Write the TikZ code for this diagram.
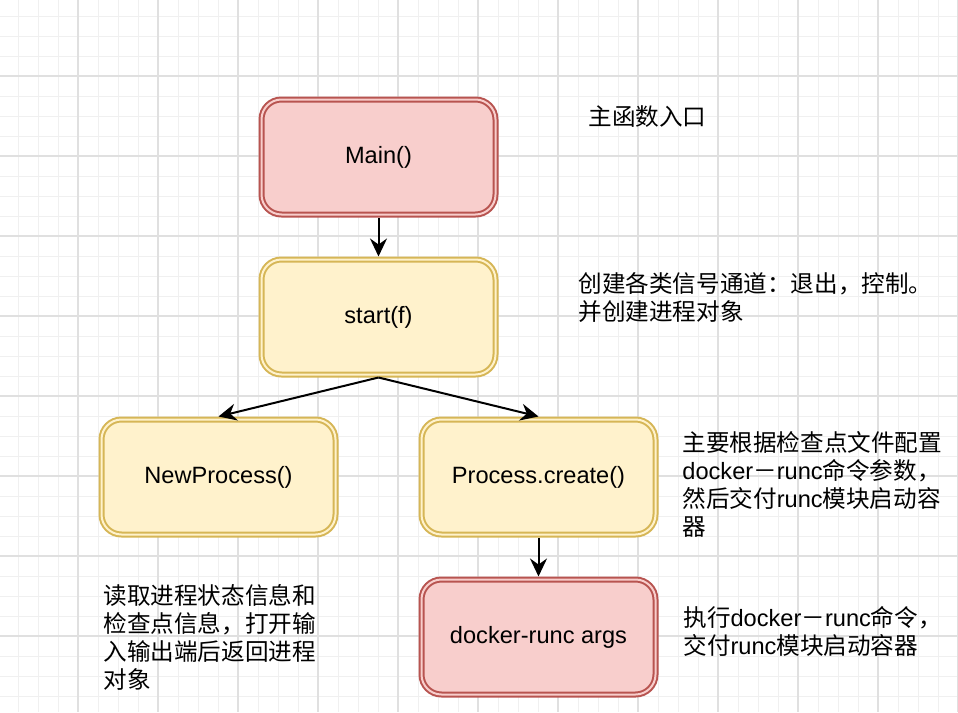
\documentclass[tikz,border=0pt]{standalone}
\usepackage{fontspec}
\setmainfont{Liberation Sans}
\newfontfamily\cjk{Noto Sans CJK SC}
\usetikzlibrary{arrows.meta}
\definecolor{redfill}{HTML}{F8CECC}
\definecolor{redline}{HTML}{B85450}
\definecolor{yelfill}{HTML}{FFF2CC}
\definecolor{yelline}{HTML}{D6B656}
\definecolor{gridminor}{HTML}{F0F0F0}
\definecolor{gridmajor}{HTML}{E0E0E0}
\newcommand{\lat}[1]{{\rmfamily #1}}
\tikzset{
  box/.style={rounded corners=10pt, line width=1pt, double distance=1pt,
    minimum width=117pt, minimum height=57.5pt, outer sep=1.5pt, inner sep=0pt,
    font=\fontsize{11.8}{14}\selectfont},
  redbox/.style={box, draw=redline, fill=redfill, double=redfill},
  yelbox/.style={box, draw=yelline, fill=yelfill, double=yelfill},
  note/.style={anchor=base west, align=left, inner sep=0pt,
    font=\fontsize{11.8}{14}\cjk},
  link/.style={-{Stealth[length=9pt,width=8.5pt,inset=3pt]}, line width=1pt}
}

\begin{document}
\begin{tikzpicture}[x=0.5pt, y=-0.5pt]
    \useasboundingbox (0,0) rectangle (958,712);
    \fill[white] (0,0) rectangle (958,712);
    % grid
    \foreach \gx in {18,38,...,958} \draw[gridminor, line width=0.5pt] (\gx,0) -- (\gx,712);
    \foreach \gy in {16,36,...,712} \draw[gridminor, line width=0.5pt] (0,\gy) -- (958,\gy);
    \foreach \gx in {78,158,...,958} \draw[gridmajor, line width=0.6pt] (\gx,0) -- (\gx,712);
    \foreach \gy in {76,156,...,712} \draw[gridmajor, line width=0.6pt] (0,\gy) -- (958,\gy);

    \node[redbox] (main) at (378.5,157) {Main()};
    \node[yelbox] (start) at (378.5,317) {start(f)};
    \node[yelbox] (newproc) at (218.5,477) {NewProcess()};
    \node[yelbox] (create) at (538.5,477) {Process.create()};
    \node[redbox] (runc) at (538.5,637) {docker-runc args};

    \draw[link] (main) -- (start);
    \draw[link] (start.south) -- (newproc.north);
    \draw[link] (start.south) -- (create.north);
    \draw[link] (create) -- (runc);

    % base west sits on the last line
    \node[note] (mainnote) at (588,125.5) {主函数入口};
    \node[note] (startnote) at (578,320) {创建各类信号通道：退出，控制。\\并创建进程对象};
    \node[note] (createnote) at (682,535) {主要根据检查点文件配置\\\lat{docker}－\lat{runc}命令参数，\\然后交付\lat{runc}模块启动容\\器};
    \node[note] (runcnote) at (683,654) {执行\lat{docker}－\lat{runc}命令，\\交付\lat{runc}模块启动容器};
    \node[note] (newnote) at (103,688) {读取进程状态信息和\\检查点信息，打开输\\入输出端后返回进程\\对象};
\end{tikzpicture}
\end{document}
